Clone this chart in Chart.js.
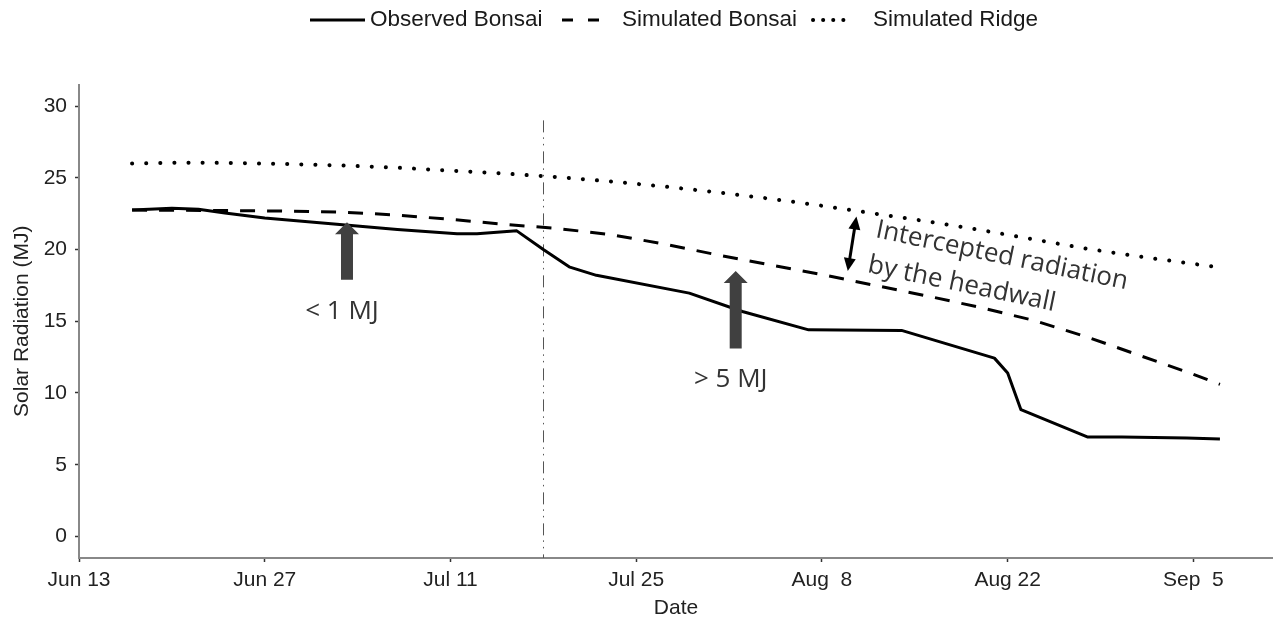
<!DOCTYPE html>
<html>
<head>
<meta charset="utf-8">
<script src="https://cdn.jsdelivr.net/npm/chart.js@4.4.1/dist/chart.umd.min.js"></script>
<style>
  html, body { margin: 0; padding: 0; background: #fff; }
</style>
</head>
<body>
<canvas id="radiation" width="1273" height="626"></canvas>
<script>
// x values are days counted from Jun 13
var tickDays = [0, 14, 28, 42, 56, 70, 84];
var tickLabels = ["Jun 13", "Jun 27", "Jul 11", "Jul 25", "Aug  8", "Aug 22", "Sep  5"];
var yTicks = [0, 5, 10, 15, 20, 25, 30];

var observedDays = [4, 7, 9, 11, 14, 19, 24, 28.5, 30, 33, 35, 37, 39, 46, 50, 55, 62, 69, 70, 71, 76, 78.6, 83.5, 86];
var observedBonsai = [22.75, 22.87, 22.8, 22.55, 22.2, 21.8, 21.4, 21.1, 21.1, 21.3, 20.0, 18.77, 18.2, 16.96, 15.68, 14.4, 14.36, 12.43, 11.4, 8.84, 6.94, 6.94, 6.87, 6.8];

var simDays = [4, 8, 12, 16, 20, 24, 28, 32, 36, 40, 44, 48, 52, 56, 60, 64, 68, 72, 76, 80, 84, 86];
var simulatedBonsai = [22.75, 22.73, 22.71, 22.67, 22.6, 22.4, 22.1, 21.76, 21.47, 21.05, 20.4, 19.65, 18.95, 18.25, 17.5, 16.75, 15.95, 15.05, 13.9, 12.6, 11.3, 10.6];
var simulatedRidge = [26.0, 26.05, 26.03, 25.95, 25.85, 25.7, 25.5, 25.3, 25.05, 24.75, 24.4, 24.0, 23.55, 23.05, 22.5, 21.95, 21.35, 20.7, 20.05, 19.5, 19.0, 18.75];

// annotation anchors (day, MJ)
var splitDay = 35;
var smallGap = { day: 20.2, tip: 21.9, base: 17.9, label: "< 1 MJ", labelY: 15.65 };
var bigGap = { day: 49.5, tip: 18.5, base: 13.1, label: "> 5 MJ", labelY: 10.9 };
var gapArrow = { top: [58.6, 22.3], bottom: [57.95, 18.5] };
var gapText = [
  { day: 60.1, y: 21.37, text: "Intercepted radiation" },
  { day: 59.5, y: 18.93, text: "by the headwall" }
];

function pts(xs, ys) {
  return xs.map(function (x, i) { return { x: x, y: ys[i] }; });
}

var noteFont = "26px 'Open Sans', sans-serif";
var legendFont = "22.5px 'Liberation Sans', Arial, sans-serif";
// legend key line spans, key dashes and text starts, in pixels
var legendKeys = [[310, 365], [562, 599], [813, 844]];
var legendDash = [[], [11, 15], [0.1, 10]];
var legendTextX = [370, 622, 873];

function blockArrow(c, cx, tipY, baseY) {
  c.beginPath();
  c.moveTo(cx - 6, baseY);
  c.lineTo(cx - 6, tipY + 12);
  c.lineTo(cx - 12, tipY + 12);
  c.lineTo(cx, tipY);
  c.lineTo(cx + 12, tipY + 12);
  c.lineTo(cx + 6, tipY + 12);
  c.lineTo(cx + 6, baseY);
  c.closePath();
  c.fill();
}

function arrowHead(c, x, y, ang) {
  c.beginPath();
  c.moveTo(x, y);
  c.lineTo(x - 13 * Math.cos(ang) + 6 * Math.sin(ang), y - 13 * Math.sin(ang) - 6 * Math.cos(ang));
  c.lineTo(x - 13 * Math.cos(ang) - 6 * Math.sin(ang), y - 13 * Math.sin(ang) + 6 * Math.cos(ang));
  c.closePath();
  c.fill();
}

var notes = {
  id: "notes",
  beforeDatasetsDraw: function (chart) {
    var x = chart.scales.x, y = chart.scales.y, c = chart.ctx;
    var px = Math.round(x.getPixelForValue(splitDay)) + 0.5;
    c.save();
    c.strokeStyle = "#555";
    c.lineWidth = 1;
    c.setLineDash([12, 5, 1.5, 5, 1.5, 6]);
    c.beginPath();
    c.moveTo(px, y.getPixelForValue(29));
    c.lineTo(px, y.bottom);
    c.stroke();
    c.restore();
  },
  afterDatasetsDraw: function (chart) {
    var x = chart.scales.x, y = chart.scales.y, c = chart.ctx;
    c.save();
    c.fillStyle = "#404040";
    [smallGap, bigGap].forEach(function (g) {
      blockArrow(c, x.getPixelForValue(g.day), y.getPixelForValue(g.tip), y.getPixelForValue(g.base));
    });

    c.fillStyle = "#333";
    c.font = noteFont;
    c.textAlign = "center";
    c.textBaseline = "middle";
    [smallGap, bigGap].forEach(function (g) {
      c.fillText(g.label, x.getPixelForValue(g.day) - 5, y.getPixelForValue(g.labelY));
    });

    // double arrow between ridge and bonsai
    var x1 = x.getPixelForValue(gapArrow.top[0]), y1 = y.getPixelForValue(gapArrow.top[1]);
    var x2 = x.getPixelForValue(gapArrow.bottom[0]), y2 = y.getPixelForValue(gapArrow.bottom[1]);
    var ang = Math.atan2(y2 - y1, x2 - x1);
    c.strokeStyle = "#000";
    c.fillStyle = "#000";
    c.lineWidth = 3;
    c.beginPath();
    c.moveTo(x1 + 8 * Math.cos(ang), y1 + 8 * Math.sin(ang));
    c.lineTo(x2 - 8 * Math.cos(ang), y2 - 8 * Math.sin(ang));
    c.stroke();
    arrowHead(c, x2, y2, ang);
    arrowHead(c, x1, y1, ang + Math.PI);

    c.fillStyle = "#333";
    c.textAlign = "left";
    gapText.forEach(function (t) {
      c.save();
      c.translate(x.getPixelForValue(t.day), y.getPixelForValue(t.y));
      c.rotate(0.205);
      c.fillText(t.text, 0, 0);
      c.restore();
    });
    c.restore();
  },
  afterDraw: function (chart) {
    // legend: line keys use the dataset colour, width and cap
    var c = chart.ctx;
    c.save();
    chart.data.datasets.forEach(function (ds, i) {
      c.strokeStyle = ds.borderColor;
      c.lineWidth = ds.borderWidth;
      c.lineCap = ds.borderCapStyle || "butt";
      c.setLineDash(legendDash[i]);
      c.beginPath();
      c.moveTo(legendKeys[i][0], 20);
      c.lineTo(legendKeys[i][1], 20);
      c.stroke();
      c.fillStyle = "#1a1a1a";
      c.font = legendFont;
      c.textAlign = "left";
      c.textBaseline = "middle";
      c.fillText(ds.label, legendTextX[i], 20);
    });
    c.restore();
  }
};

Chart.defaults.font.family = "'Liberation Sans', Arial, sans-serif";
Chart.defaults.color = "#222";

var radiation = document.getElementById("radiation");

new Chart(radiation, {
  type: "line",
  data: {
    datasets: [
      {
        label: "Observed Bonsai",
        data: pts(observedDays, observedBonsai),
        borderColor: "#000",
        borderWidth: 3,
        borderJoinStyle: "round",
        pointRadius: 0,
      },
      {
        label: "Simulated Bonsai",
        data: pts(simDays, simulatedBonsai),
        borderColor: "#000",
        borderWidth: 3,
        borderDash: [15, 12],
        pointRadius: 0,
      },
      {
        label: "Simulated Ridge",
        data: pts(simDays, simulatedRidge),
        borderColor: "#000",
        borderWidth: 4,
        borderDash: [0.1, 14],
        borderCapStyle: "round",
        pointRadius: 0,
      },
    ],
  },
  options: {
    responsive: false,
    animation: false,
    layout: { padding: { top: 84.5 } },
    plugins: {
      legend: { display: false },
      tooltip: { enabled: false },
    },
    scales: {
      x: {
        type: "linear",
        min: 0,
        max: 90,
        afterBuildTicks: function (axis) {
          axis.ticks = tickDays.map(function (d) { return { value: d }; });
        },
        afterFit: function (axis) { axis.height = 68; },
        ticks: {
          autoSkip: false,
          maxRotation: 0,
          padding: 6,
          font: { size: 21 },
          callback: function (v) { return tickLabels[tickDays.indexOf(v)]; },
        },
        grid: { drawOnChartArea: false, tickLength: 4, color: "#333", tickWidth: 1.5 },
        border: { color: "#888", width: 2 },
        title: { display: true, text: "Date", font: { size: 21 }, padding: { top: 0, bottom: 5 } },
      },
      y: {
        min: -1.5,
        max: 31.5,
        afterBuildTicks: function (axis) {
          axis.ticks = yTicks.map(function (v) { return { value: v }; });
        },
        afterFit: function (axis) { axis.width = 79; },
        ticks: { padding: 8, font: { size: 21 } },
        grid: { drawOnChartArea: false, tickLength: 4, color: "#333", tickWidth: 1.5 },
        border: { color: "#888", width: 2 },
        title: { display: true, text: "Solar Radiation (MJ)", font: { size: 21 }, padding: { top: 10, bottom: 0 } },
      },
    },
  },
  plugins: [notes],
});
</script>
</body>
</html>
